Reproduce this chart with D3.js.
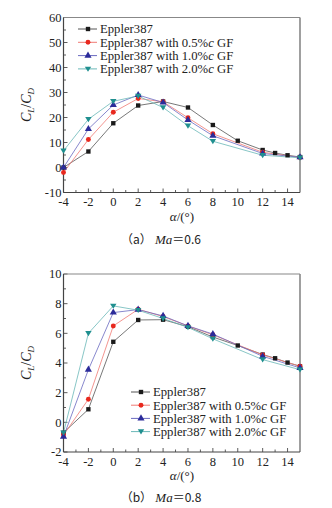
<!DOCTYPE html>
<html><head><meta charset="utf-8">
<script src="https://cdn.jsdelivr.net/npm/d3@7"></script>
<style>
html,body{margin:0;padding:0;background:#fff;}
svg{display:block;}
text{font-family:"Liberation Serif","Times New Roman",serif;fill:#222;}
</style></head>
<body>
<svg id="chart" width="332" height="508"></svg>
<script>
// ---- data ----
const seriesNames = ["Eppler387","Eppler387 with 0.5%c GF","Eppler387 with 1.0%c GF","Eppler387 with 2.0%c GF"];
const alphaBase = [-4,-2,0,2,4,6,8,10,12,13,14,15];
const alphaGF = [-4,-2,0,2,4,6,8,12,15];

// (a) Ma = 0.6
const a_base = [0,6.4,17.7,24.8,26.4,24,17,10.7,7,5.8,4.9,4.2];
const a_gf05 = [-2,11.2,22.1,27.6,26.3,19.9,13.5,6.1,4.0];
const a_gf10 = [0,15.4,25,29,26,19,12.7,5.6,4.1];
const a_gf20 = [6.7,19.3,26.5,28.6,24,16.7,10.5,4.9,3.9];

// (b) Ma = 0.8
const b_base = [-0.7,0.88,5.43,6.9,6.92,6.45,5.75,5.18,4.57,4.32,4.03,3.78];
const b_gf05 = [-0.86,1.56,6.5,7.62,7.13,6.5,5.9,4.55,3.78];
const b_gf10 = [-0.97,3.55,7.4,7.6,7.17,6.5,5.95,4.45,3.67];
const b_gf20 = [-0.7,6.0,7.85,7.56,7.0,6.4,5.63,4.23,3.55];

const xTicks = [-4,-2,0,2,4,6,8,10,12,14];
const aYTicks = [-10,0,10,20,30,40,50,60];
const bYTicks = [-2,0,2,4,6,8,10];

const markerColors = ["#1a1a1a","#e8281e","#2b2b9a","#1f8f8f"];
const lineColors = ["#555555","#f07a74","#6a6ac0","#6ab8b8"];
const symbols = [d3.symbolSquare, d3.symbolCircle, d3.symbolTriangle, "tridown"];

const svg = d3.select("#chart");

function marker(g, k, x, y){
  if (k === 3){
    const s = 3.2;
    g.append("path").attr("d", `M${x-s},${y-s*0.7}L${x+s},${y-s*0.7}L${x},${y+s*0.9}Z`).attr("fill", markerColors[k]);
  } else {
    const size = k===2 ? 22 : 19;
    g.append("path").attr("d", d3.symbol().type(symbols[k]).size(size)())
      .attr("transform", `translate(${x},${y})`).attr("fill", markerColors[k]);
  }
}

function panel(cfg){
  const g = svg.append("g");
  const x = d3.scaleLinear().domain([-4,15]).range([63.5,300]);
  const y = d3.scaleLinear().domain(cfg.yDom).range([cfg.bottom, cfg.top]);

  // ticks (inward)
  const xMinor = d3.range(-3,15,1).filter(v=>v%2!==0);
  xTicks.forEach(v=>{ g.append("line").attr("x1",x(v)).attr("x2",x(v)).attr("y1",cfg.bottom).attr("y2",cfg.bottom-4).attr("stroke","#333").attr("stroke-width",0.8); });
  xMinor.forEach(v=>{ g.append("line").attr("x1",x(v)).attr("x2",x(v)).attr("y1",cfg.bottom).attr("y2",cfg.bottom-2.5).attr("stroke","#333").attr("stroke-width",0.8); });
  cfg.yTicks.forEach(v=>{ g.append("line").attr("x1",x(-4)).attr("x2",x(-4)+4).attr("y1",y(v)).attr("y2",y(v)).attr("stroke","#333").attr("stroke-width",0.8); });
  cfg.yMinor.forEach(v=>{ g.append("line").attr("x1",x(-4)).attr("x2",x(-4)+2.5).attr("y1",y(v)).attr("y2",y(v)).attr("stroke","#333").attr("stroke-width",0.8); });

  // frame
  g.append("line").attr("x1",x(-4)).attr("x2",x(15)).attr("y1",cfg.top).attr("y2",cfg.top).attr("stroke","#888").attr("stroke-width",1.2);
  g.append("line").attr("x1",x(15)).attr("x2",x(15)).attr("y1",cfg.top).attr("y2",cfg.bottom).attr("stroke","#888").attr("stroke-width",1.6);
  g.append("line").attr("x1",x(-4)).attr("x2",x(15)).attr("y1",cfg.bottom).attr("y2",cfg.bottom).attr("stroke","#444").attr("stroke-width",1.2);
  g.append("line").attr("x1",x(-4)).attr("x2",x(-4)).attr("y1",cfg.top).attr("y2",cfg.bottom).attr("stroke","#444").attr("stroke-width",1.2);

  // tick labels
  xTicks.forEach(v=>{ g.append("text").attr("x",x(v)).attr("y",cfg.bottom+13.5).attr("text-anchor","middle").attr("font-size",12.5).text(v); });
  cfg.yTicks.forEach(v=>{ g.append("text").attr("x",x(-4)-2).attr("y",y(v)+4.3).attr("text-anchor","end").attr("font-size",12.5).text(v); });

  // series
  const line = d3.line().x(d=>x(d[0])).y(d=>y(d[1]));
  cfg.series.forEach((s,k)=>{
    const xs = k===0 ? alphaBase : alphaGF;
    const pts = xs.map((a,i)=>[a,s[i]]);
    g.append("path").attr("d", line(pts)).attr("fill","none").attr("stroke",lineColors[k]).attr("stroke-width",0.8);
  });
  cfg.series.forEach((s,k)=>{
    const xs = k===0 ? alphaBase : alphaGF;
    xs.forEach((a,i)=> marker(g,k,x(a),y(s[i])));
  });

  // legend
  seriesNames.forEach((nm,k)=>{
    const ly = cfg.legY + k*cfg.legDy;
    g.append("line").attr("x1",cfg.legX).attr("x2",cfg.legX+19).attr("y1",ly).attr("y2",ly).attr("stroke",lineColors[k]).attr("stroke-width",1);
    marker(g,k,cfg.legX+10,ly);
    const t = g.append("text").attr("x",cfg.legX+22).attr("y",ly+4.3).attr("font-size",12.7);
    const m = nm.match(/^(.*%)(c)( GF)$/);
    if (m){
      t.append("tspan").text(m[1]);
      t.append("tspan").attr("font-style","italic").text(m[2]);
      t.append("tspan").text(m[3]);
    } else t.text(nm);
  });

  // axis labels
  const xl = g.append("text").attr("x",182).attr("y",cfg.bottom+28).attr("text-anchor","middle").attr("font-size",13);
  xl.append("tspan").attr("font-style","italic").text("α");
  xl.append("tspan").text("/(°)");

  const cy = (cfg.top+cfg.bottom)/2;
  const yl = g.append("text").attr("transform",`translate(31,${cy}) rotate(-90)`).attr("text-anchor","middle").attr("font-size",14);
  yl.append("tspan").attr("font-style","italic").text("C");
  yl.append("tspan").attr("font-style","italic").attr("font-size",9).attr("dy",3).text("L");
  yl.append("tspan").attr("dy",-3).text("/");
  yl.append("tspan").attr("font-style","italic").text("C");
  yl.append("tspan").attr("font-style","italic").attr("font-size",9).attr("dy",3).text("D");

  // caption
  const cap = g.append("text").attr("x",161).attr("y",cfg.capY).attr("text-anchor","middle").attr("font-size",13);
  cap.append("tspan").attr("font-family","'Noto Sans CJK SC',sans-serif").attr("font-size",12).text(cfg.capTag);
  cap.append("tspan").text(" ");
  cap.append("tspan").attr("font-style","italic").text("Ma");
  cap.append("tspan").attr("font-family","'Noto Sans CJK SC',sans-serif").attr("font-size",12).text(cfg.capVal);
}

panel({yDom:[-10,60], top:17.5, bottom:192.5, yTicks:aYTicks, yMinor:[-5,5,15,25,35,45,55],
  series:[a_base,a_gf05,a_gf10,a_gf20], legX:78, legY:29, legDy:13.3, capY:244, capTag:"（a）", capVal:"＝0.6"});
panel({yDom:[-2,10], top:274, bottom:452, yTicks:bYTicks, yMinor:[-1,1,3,5,7,9],
  series:[b_base,b_gf05,b_gf10,b_gf20], legX:131, legY:392, legDy:13.2, capY:502, capTag:"（b）", capVal:"＝0.8"});
</script>
</body></html>
